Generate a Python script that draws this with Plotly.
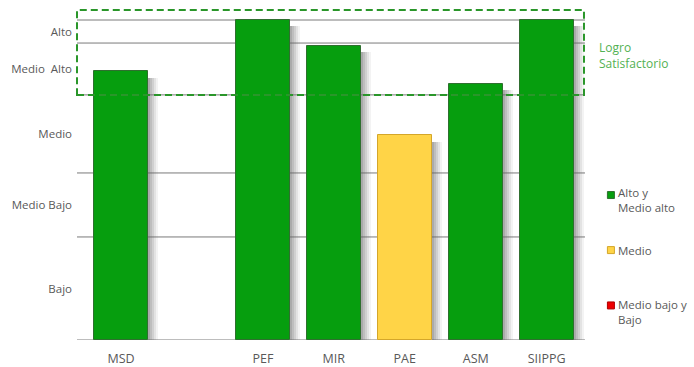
import plotly.graph_objects as go

# ---- data ----
categories = ["MSD", " ", "PEF", "MIR", "PAE", "ASM", "SIIPPG"]
values = [84, None, 100, 92, 64, 80, 100]
level_labels = ["Bajo", "Medio Bajo", "Medio", "Medio\u00a0 Alto", "Alto"]
level_bounds = [0, 32.2, 52.2, 76.6, 92.8, 100]
legend_labels = ["Alto y<br>Medio alto", "Medio", "Medio bajo y<br>Bajo"]

GREEN, GREEN_LINE = "#069e0e", "#2f6f2f"
YELLOW, YELLOW_LINE = "#ffd447", "#d4a62a"
RED, RED_LINE = "#ee0000", "#b00000"
TXT = "#595959"
FONT = "Open Sans"

def color_for(v):
    if v is None:
        return GREEN, GREEN_LINE
    if v >= level_bounds[3]:
        return GREEN, GREEN_LINE
    if v >= level_bounds[2]:
        return YELLOW, YELLOW_LINE
    return RED, RED_LINE

fills = [color_for(v)[0] for v in values]
lines = [color_for(v)[1] for v in values]

fig = go.Figure()

# shadow (gradient approximated by slices)
bw = 0.76
slice_w = 0.028
alphas = [0.55, 0.42, 0.30, 0.18, 0.08]
for i, a in enumerate(alphas):
    fig.add_trace(go.Bar(
        x=categories,
        y=[None if v is None else v - 2 for v in values],
        width=slice_w, offset=bw / 2 + i * slice_w,
        marker=dict(color=f"rgba(100,100,100,{a})", line=dict(width=0)),
        showlegend=False, hoverinfo="skip"))

fig.add_trace(go.Bar(
    x=categories, y=values, width=bw, offset=-bw / 2,
    marker=dict(color=fills, line=dict(color=lines, width=1)),
    showlegend=False))

# gridlines at level boundaries
for b in level_bounds:
    fig.add_shape(type="line", xref="paper", x0=0, x1=1, yref="y", y0=b, y1=b,
                  line=dict(color="#7a7a7a", width=1), layer="below")

# "Logro Satisfactorio" dashed box
fig.add_shape(type="rect", xref="paper", x0=0, x1=0.998, yref="y",
              y0=level_bounds[3], y1=103.1,
              line=dict(color="#2a962a", width=2, dash="7px,4px"),
              fillcolor="rgba(0,0,0,0)", layer="above")
fig.add_annotation(text="Logro<br>Satisfactorio", xref="paper", x=1.024, yref="y", y=88.8,
                   xanchor="left", yanchor="middle", align="left", showarrow=False,
                   font=dict(family=FONT, size=12, color="#52b152"))

# manual legend
leg_text_y = [43.6, 28.1, 8.6]
leg_sq_y = [45.3, 28.1, 10.8]
leg_cols = [(GREEN, GREEN_LINE), (YELLOW, YELLOW_LINE), (RED, RED_LINE)]
for lab, ty, sy, (fc, lc) in zip(legend_labels, leg_text_y, leg_sq_y, leg_cols):
    fig.add_shape(type="rect", xref="paper", yref="y", xsizemode="pixel", ysizemode="pixel",
                  xanchor=1.051, yanchor=sy, x0=-3.5, x1=3.5, y0=-3.5, y1=3.5,
                  fillcolor=fc, line=dict(color=lc, width=1))
    fig.add_annotation(text=lab, xref="paper", x=1.062, yref="y", y=ty,
                       xanchor="left", yanchor="middle", align="left", showarrow=False,
                       font=dict(family=FONT, size=11.5, color=TXT))

mids = [(level_bounds[i] + level_bounds[i + 1]) / 2 for i in range(len(level_labels))]

fig.update_layout(
    width=694, height=367,
    margin=dict(l=77, r=109, t=8, b=27, autoexpand=False),
    paper_bgcolor="white", plot_bgcolor="white",
    barmode="overlay", bargap=0,
    font=dict(family=FONT, size=11, color=TXT),
    xaxis=dict(type="category", categoryorder="array", categoryarray=categories,
               range=[-0.62, 6.54], showgrid=False, zeroline=False, showline=False,
               ticks="", tickfont=dict(size=12.5, color=TXT), ticklabelstandoff=9,
               automargin=False),
    yaxis=dict(range=[0, 103.75], tickvals=mids, ticktext=level_labels,
               showgrid=False, zeroline=False, showline=False, ticks="",
               tickfont=dict(size=11.5, color=TXT), ticklabelstandoff=4, automargin=False),
)

fig.write_html("out.html", config={"displayModeBar": False},
               post_script="document.body.style.margin='0';document.body.style.overflow='hidden';")
